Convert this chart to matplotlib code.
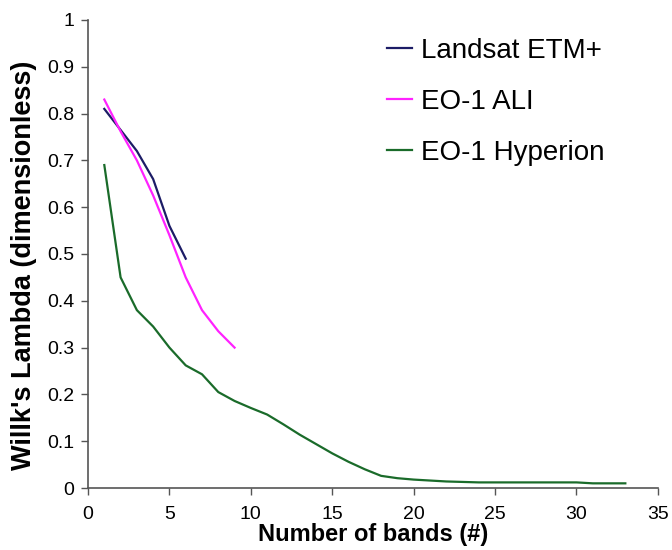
import matplotlib
matplotlib.use('Agg')
import matplotlib.pyplot as plt

plt.rcParams['font.family'] = ['Liberation Sans', 'DejaVu Sans']

# values
landsat_x = [1, 2, 3, 4, 5, 6]
landsat_y = [0.81, 0.765, 0.72, 0.66, 0.56, 0.49]

ali_x = [1, 2, 3, 4, 5, 6, 7, 8, 9]
ali_y = [0.83, 0.762, 0.70, 0.625, 0.54, 0.45, 0.38, 0.335, 0.30]

hyp_x = list(range(1, 34))
hyp_y = [0.69, 0.45, 0.38, 0.345, 0.30, 0.262, 0.243, 0.205, 0.186, 0.171,
         0.157, 0.136, 0.114, 0.094, 0.074, 0.056, 0.04, 0.026, 0.021, 0.018,
         0.016, 0.014, 0.013, 0.012, 0.012, 0.012, 0.012, 0.012, 0.012, 0.012,
         0.01, 0.01, 0.01]

fig = plt.figure(figsize=(6.72, 5.5), dpi=100)
ax = fig.add_axes([0.131, 0.1127, 0.848, 0.851])

ax.plot(landsat_x, landsat_y, color='#1c1c66', lw=1.6, label='Landsat ETM+')
ax.plot(ali_x, ali_y, color='#ff22ff', lw=1.6, label='EO-1 ALI')
ax.plot(hyp_x, hyp_y, color='#1a6b2a', lw=1.6, label='EO-1 Hyperion')

ax.set_xlim(0, 35)
ax.set_ylim(0, 1)
ax.set_xticks(range(0, 36, 5))
ax.set_yticks([i / 10 for i in range(11)])
ax.set_yticklabels(['0', '0.1', '0.2', '0.3', '0.4', '0.5', '0.6', '0.7', '0.8', '0.9', '1'])

for s in ['top', 'right']:
    ax.spines[s].set_visible(False)
for s in ['left', 'bottom']:
    ax.spines[s].set_color('#555555')
    ax.spines[s].set_linewidth(1.2)
ax.tick_params(direction='out', length=5, width=1.0, color='#555555', labelsize=14)
ax.tick_params(axis='x', pad=8)
ax.tick_params(axis='y', pad=5)

ax.set_xlabel('Number of bands (#)', fontsize=17, fontweight='bold', labelpad=0)
ax.set_ylabel("Willk's Lambda (dimensionless)", fontsize=19.5, fontweight='bold')
ax.yaxis.set_label_coords(-0.089, 0.476)

ax.legend(loc='upper left', bbox_to_anchor=(0.525, 0.962), frameon=False,
          fontsize=20, handlelength=0.9, handletextpad=0.3, labelspacing=0.9,
          borderpad=0, borderaxespad=0)

fig.savefig('out.png', dpi=100)
